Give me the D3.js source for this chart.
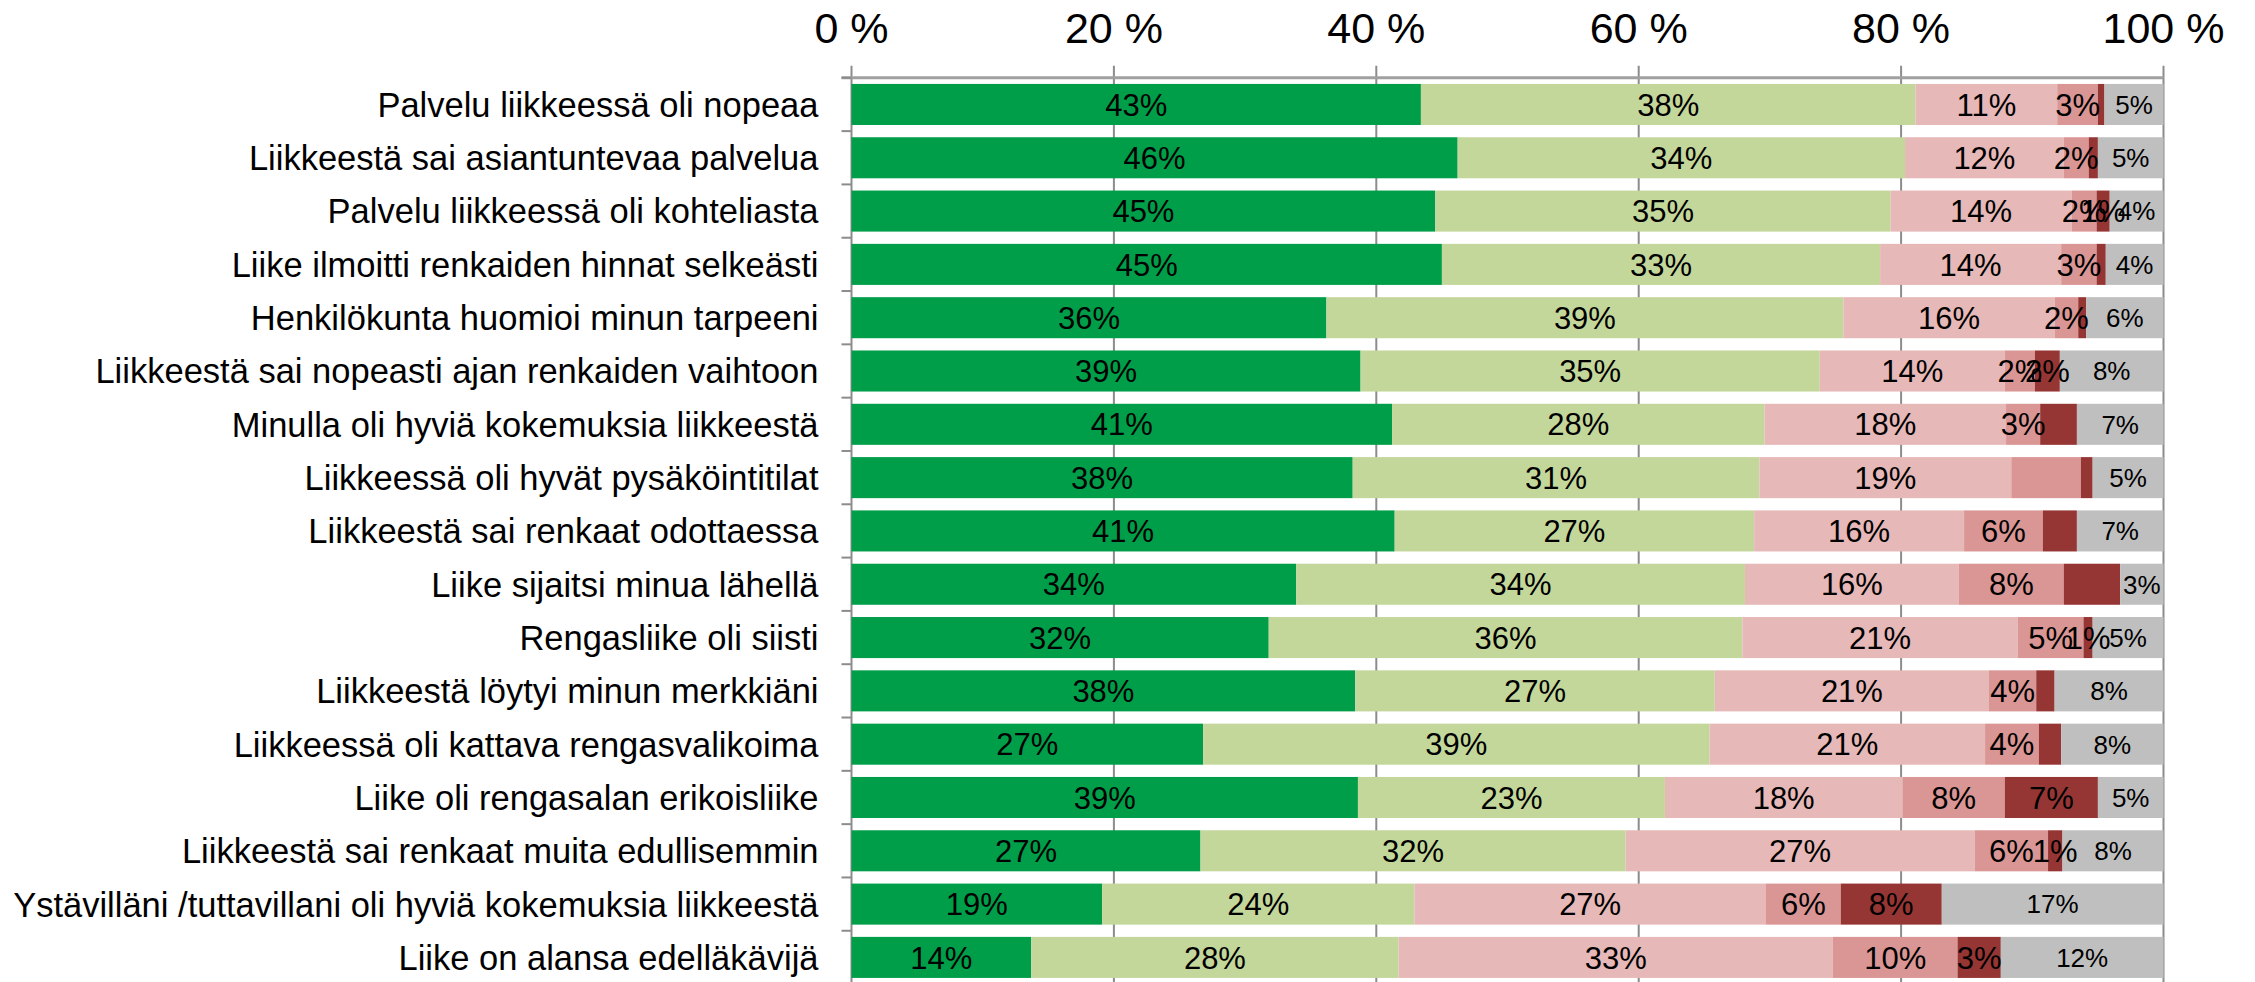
<!DOCTYPE html>
<html>
<head>
<meta charset="utf-8">
<script src="https://cdn.jsdelivr.net/npm/d3@7"></script>
<style>
  html, body { margin: 0; padding: 0; background: #fff; }
  svg { display: block; font-family: "Liberation Sans", Arial, sans-serif; }
</style>
</head>
<body>
<svg id="chart" width="2255" height="982"></svg>
<script>
// statements, top to bottom as in the chart
const categories = [
  'Palvelu liikkeessä oli nopeaa',
  'Liikkeestä sai asiantuntevaa palvelua',
  'Palvelu liikkeessä oli kohteliasta',
  'Liike ilmoitti renkaiden hinnat selkeästi',
  'Henkilökunta huomioi minun tarpeeni',
  'Liikkeestä sai nopeasti ajan renkaiden vaihtoon',
  'Minulla oli hyviä kokemuksia liikkeestä',
  'Liikkeessä oli hyvät pysäköintitilat',
  'Liikkeestä sai renkaat odottaessa',
  'Liike sijaitsi minua lähellä',
  'Rengasliike oli siisti',
  'Liikkeestä löytyi minun merkkiäni',
  'Liikkeessä oli kattava rengasvalikoima',
  'Liike oli rengasalan erikoisliike',
  'Liikkeestä sai renkaat muita edullisemmin',
  'Ystävilläni /tuttavillani oli hyviä kokemuksia liikkeestä',
  'Liike on alansa edelläkävijä'
]

// answer shares in percent, one array per answer option
const fullyAgree       = [43.4, 46.2, 44.5, 45.0, 36.2, 38.8, 41.2, 38.2, 41.4, 33.9, 31.8, 38.4, 26.8, 38.6, 26.6, 19.1, 13.7]
const somewhatAgree    = [37.7, 34.1, 34.7, 33.4, 39.4, 35.0, 28.4, 31.0, 27.4, 34.2, 36.1, 27.4, 38.6, 23.4, 32.4, 23.8, 28.0]
const neutral          = [10.8, 12.1, 13.8, 13.8, 16.1, 14.1, 18.4, 19.2, 16.0, 16.3, 21.0, 20.9, 21.0, 18.1, 26.6, 26.8, 33.1]
const somewhatDisagree = [3.1, 1.9, 1.9, 2.7, 1.8, 2.3, 2.6, 5.3, 6.0, 8.0, 5.0, 3.6, 4.1, 7.8, 5.6, 5.7, 9.5]
const fullyDisagree    = [0.5, 0.7, 1.0, 0.7, 0.6, 1.9, 2.8, 0.9, 2.6, 4.3, 0.7, 1.4, 1.7, 7.1, 1.1, 7.7, 3.3]
const cantSay          = [4.5, 5.0, 4.1, 4.4, 5.9, 7.9, 6.6, 5.4, 6.6, 3.3, 5.4, 8.3, 7.8, 5.0, 7.7, 16.9, 12.4]

const xTicks = [0, 20, 40, 60, 80, 100]

// data labels that the original chart does not show: [row, series]
const hiddenLabels = [[0, 4], [1, 4], [3, 4], [4, 4], [6, 4], [7, 3], [7, 4], [8, 4], [9, 4], [11, 4], [12, 4]]

const seriesValues = [fullyAgree, somewhatAgree, neutral, somewhatDisagree, fullyDisagree, cantSay]
const colors = ['#009e49', '#c4d79b', '#e6b8b7', '#da9694', '#963634', '#bfbfbf']

const svg = d3.select('#chart')
const plotLeft = 851.5
const plotRight = 2163.5
const plotTop = 77.8
const step = 53.31

const x = d3.scaleLinear().domain([0, 100]).range([plotLeft, plotRight])
const y = d3.scaleBand()
  .domain(categories)
  .range([plotTop, plotTop + step * categories.length])
  .paddingInner(0.23)
  .paddingOuter(0.115)

// build stacked rows
const rows = categories.map((name, i) => {
  let acc = 0
  return seriesValues.map((vals, s) => {
    const seg = { name, row: i, series: s, x0: acc, x1: acc + vals[i], value: vals[i] }
    acc += vals[i]
    return seg
  })
})
const segments = rows.flat()
const isHidden = d => hiddenLabels.some(h => h[0] === d.row && h[1] === d.series)

// gridlines (behind bars)
svg.append('g')
  .selectAll('line')
  .data(xTicks)
  .join('line')
  .attr('x1', d => x(d))
  .attr('x2', d => x(d))
  .attr('y1', plotTop - 12)
  .attr('y2', 982)
  .attr('stroke', '#8c8c8c')
  .attr('stroke-width', 2)

// top axis line
svg.append('line')
  .attr('x1', plotLeft - 10)
  .attr('x2', plotRight)
  .attr('y1', plotTop)
  .attr('y2', plotTop)
  .attr('stroke', '#a0a0a0')
  .attr('stroke-width', 3)

// y axis ticks at band boundaries
svg.append('g')
  .selectAll('line')
  .data(d3.range(categories.length + 1))
  .join('line')
  .attr('x1', plotLeft - 10)
  .attr('x2', plotLeft)
  .attr('y1', d => plotTop + d * step)
  .attr('y2', d => plotTop + d * step)
  .attr('stroke', '#8c8c8c')
  .attr('stroke-width', 2)

// bars
svg.append('g')
  .selectAll('rect')
  .data(segments)
  .join('rect')
  .attr('x', d => x(d.x0))
  .attr('y', d => y(d.name))
  .attr('width', d => x(d.x1) - x(d.x0))
  .attr('height', y.bandwidth())
  .attr('fill', d => colors[d.series])

// value labels
svg.append('g')
  .selectAll('text')
  .data(segments.filter(d => !isHidden(d)))
  .join('text')
  .attr('x', d => x((d.x0 + d.x1) / 2))
  .attr('y', d => y(d.name) + y.bandwidth() / 2)
  .attr('dy', '0.36em')
  .attr('text-anchor', 'middle')
  .attr('font-size', d => d.series === 5 ? '26px' : '31px')
  .attr('fill', '#000')
  .text(d => Math.round(d.value) + '%')

// category labels
svg.append('g')
  .selectAll('text')
  .data(categories)
  .join('text')
  .attr('x', plotLeft - 33)
  .attr('y', d => y(d) + y.bandwidth() / 2)
  .attr('dy', '0.36em')
  .attr('text-anchor', 'end')
  .attr('font-size', '34.5px')
  .attr('fill', '#000')
  .text(d => d)

// x tick labels on top
svg.append('g')
  .selectAll('text')
  .data(xTicks)
  .join('text')
  .attr('x', d => x(d))
  .attr('y', 43)
  .attr('text-anchor', 'middle')
  .attr('font-size', '43px')
  .attr('fill', '#000')
  .text(d => d + ' %')
</script>
</body>
</html>
